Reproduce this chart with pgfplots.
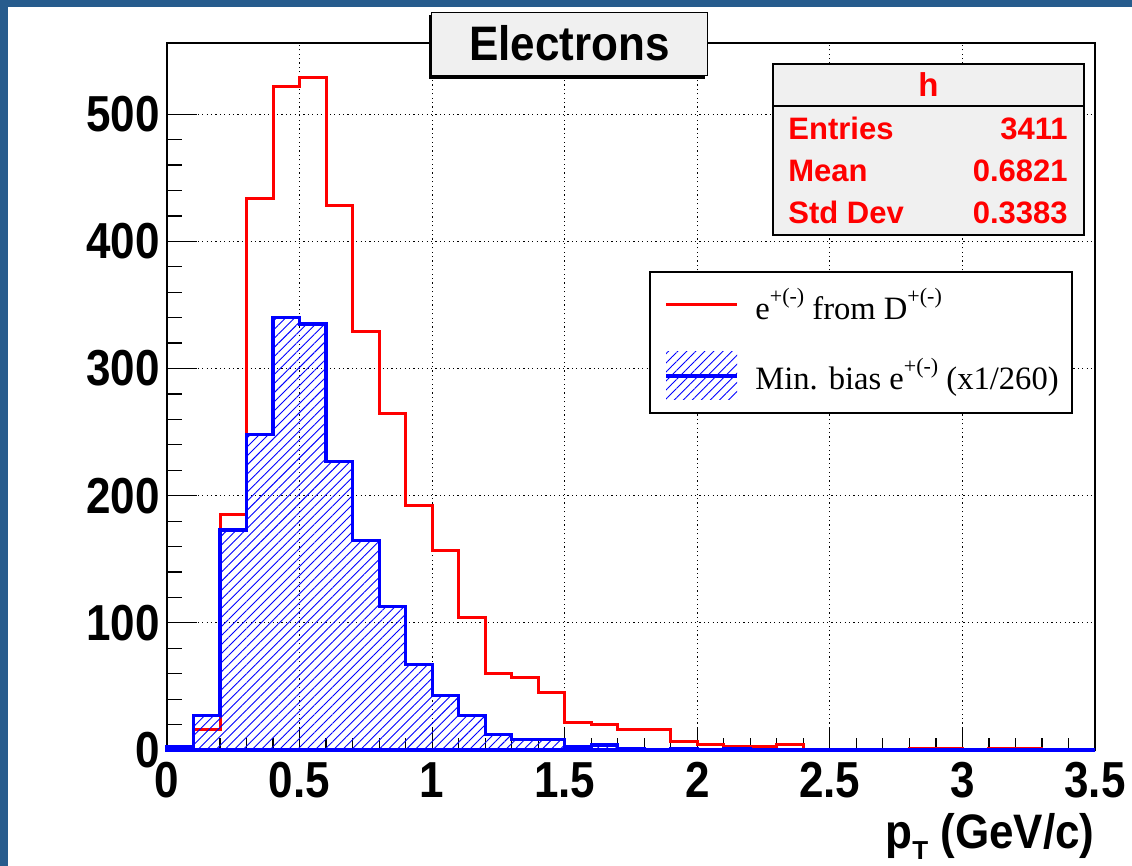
\documentclass[border=0pt]{standalone}
\usepackage{fontspec}
\setmainfont{Liberation Sans}
\newfontfamily\timesfont{Liberation Serif}
\usepackage{pgfplots}
\pgfplotsset{compat=1.18}
\usetikzlibrary{patterns.meta}
\definecolor{frameblue}{RGB}{39,92,141}
\definecolor{boxgray}{RGB}{240,240,240}
\newcommand{\bigbf}{\bfseries\fontsize{22}{22}\selectfont}
\newcommand{\statbf}{\bfseries\fontsize{15.5}{15.5}\selectfont}
\newcommand{\pmsup}[1]{\raisebox{0.5em}{\fontsize{11}{11}\selectfont #1}}

\begin{document}
\begin{tikzpicture}
  % page background with the blue frame on the left and top
  \fill[white] (-83.5pt,-58pt) rectangle (482.5pt,375pt);
  \fill[frameblue] (-83.5pt,-58pt) rectangle (-79.5pt,375pt);
  \fill[frameblue] (-83.5pt,371.5pt) rectangle (482.5pt,375pt);

  \begin{axis}[
      width=464pt, height=353.5pt, scale only axis,
      at={(0pt,0pt)}, anchor=south west,
      xmin=0, xmax=3.5, ymin=0, ymax=556,
      xtick={0,0.5,1,1.5,2,2.5,3,3.5},
      ytick={0,100,200,300,400,500},
      minor x tick num=4, minor y tick num=4,
      xtick pos=bottom, ytick pos=left, tick align=inside,
      xtick style={black, line width=0.6pt, /pgfplots/major tick length=10.8pt, /pgfplots/minor tick length=5.8pt},
      ytick style={black, line width=0.6pt, /pgfplots/major tick length=15pt, /pgfplots/minor tick length=7.5pt},
      xmajorgrids, ymajorgrids,
      major grid style={black, line width=0.5pt, dash pattern=on 0.6pt off 1.6pt},
      axis line style={black, line width=0.8pt},
      /pgf/number format/assume math mode=true,
      tick label style={font=\bigbf, inner sep=0pt},
      xticklabel={\scalebox{1}[1.15]{\pgfmathprintnumber{\tick}}},
      yticklabel={\scalebox{1}[1.15]{\pgfmathprintnumber{\tick}}},
      xticklabel style={yshift=-6pt},
      yticklabel style={xshift=-3.5pt},
      xlabel={\scalebox{1}[1.1]{p}\raisebox{-5.5pt}{\fontsize{13}{13}\selectfont T} \scalebox{1}[1.1]{(GeV/c)}},
      xlabel style={at={(rel axis cs:1,0)}, anchor=base east, yshift=-49.5pt, inner sep=0pt, font=\bigbf},
      clip=false,
    ]
    % e+(-) from D+(-)
    \addplot[const plot, red, line width=1.5pt] coordinates {
      (0.0,1) (0.1,16) (0.2,185) (0.3,434) (0.4,522) (0.5,529) (0.6,428)
      (0.7,329) (0.8,265) (0.9,192) (1.0,157) (1.1,104) (1.2,60) (1.3,57)
      (1.4,45) (1.5,22) (1.6,20) (1.7,16) (1.8,16) (1.9,7) (2.0,4) (2.1,3)
      (2.2,3) (2.3,4) (2.4,0) (2.5,0) (2.6,0) (2.7,0) (2.8,1) (2.9,1)
      (3.0,0) (3.1,1) (3.2,1) (3.3,0) (3.4,0) (3.5,0)};
    % min. bias e+(-), scaled 1/260
    \addplot[const plot, draw=blue, line width=1.6pt,
      pattern={Lines[angle=45,distance=3.2pt,line width=0.45pt]}, pattern color=blue] coordinates {
      (0.0,3) (0.1,27) (0.2,173) (0.3,248) (0.4,340) (0.5,335) (0.6,227)
      (0.7,165) (0.8,113) (0.9,67) (1.0,43) (1.1,27) (1.2,12) (1.3,8)
      (1.4,8) (1.5,3) (1.6,4) (1.7,1) (1.8,0) (1.9,1) (2.0,0) (2.1,1)
      (2.2,0) (2.3,0) (2.4,0) (2.5,0) (2.6,0) (2.7,0) (2.8,0) (2.9,0)
      (3.0,0) (3.1,0) (3.2,0) (3.3,0) (3.4,0) (3.5,0)} \closedcycle;
  \end{axis}

  % title box
  \fill[black] (131.2pt,335.7pt) rectangle (268.8pt,367.3pt);
  \draw[fill=boxgray, line width=0.5pt] (132.5pt,337pt) rectangle (270pt,368.5pt);
  \node[font=\bigbf, inner sep=0pt] at (201.25pt,353.5pt) {\scalebox{1}[1.1]{Electrons}};

  % statistics box
  \draw[fill=boxgray, line width=0.9pt] (303pt,257.5pt) rectangle (458.5pt,343pt);
  \draw[line width=0.9pt] (303pt,322pt) -- (458.5pt,322pt);
  \begin{scope}[red, inner sep=0pt, font=\statbf]
    \node[anchor=base] at (380.75pt,326.5pt) {\fontsize{16.5}{16.5}\selectfont h};
    \node[anchor=base west] at (310.5pt,305pt) {Entries};
    \node[anchor=base east] at (450.5pt,305pt) {3411};
    \node[anchor=base west] at (310.5pt,284pt) {Mean};
    \node[anchor=base east] at (450.5pt,284pt) {0.6821};
    \node[anchor=base west] at (310.5pt,263pt) {Std Dev};
    \node[anchor=base east] at (450.5pt,263pt) {0.3383};
  \end{scope}

  % legend
  \draw[fill=white, line width=0.7pt] (241.5pt,168.5pt) rectangle (452.5pt,239pt);
  \draw[red, line width=1.5pt] (249.5pt,222.5pt) -- (285pt,222.5pt);
  \fill[pattern={Lines[angle=45,distance=3.2pt,line width=0.45pt]}, pattern color=blue]
    (249.5pt,175pt) rectangle (285pt,199pt);
  \draw[blue, line width=1.6pt] (249.5pt,187pt) -- (285pt,187pt);
  \begin{scope}[inner sep=0pt, font=\timesfont\fontsize{16.3}{16.3}\selectfont]
    \node[anchor=base west] at (294pt,215pt) {e\pmsup{+(-)} from D\pmsup{+(-)}};
    \node[anchor=base west] at (294pt,180pt) {Min. bias e\pmsup{+(-)} (x1/260)};
  \end{scope}

  \pgfresetboundingbox
  \useasboundingbox (-83.5pt,-58pt) rectangle (482.5pt,375pt);
\end{tikzpicture}
\end{document}
